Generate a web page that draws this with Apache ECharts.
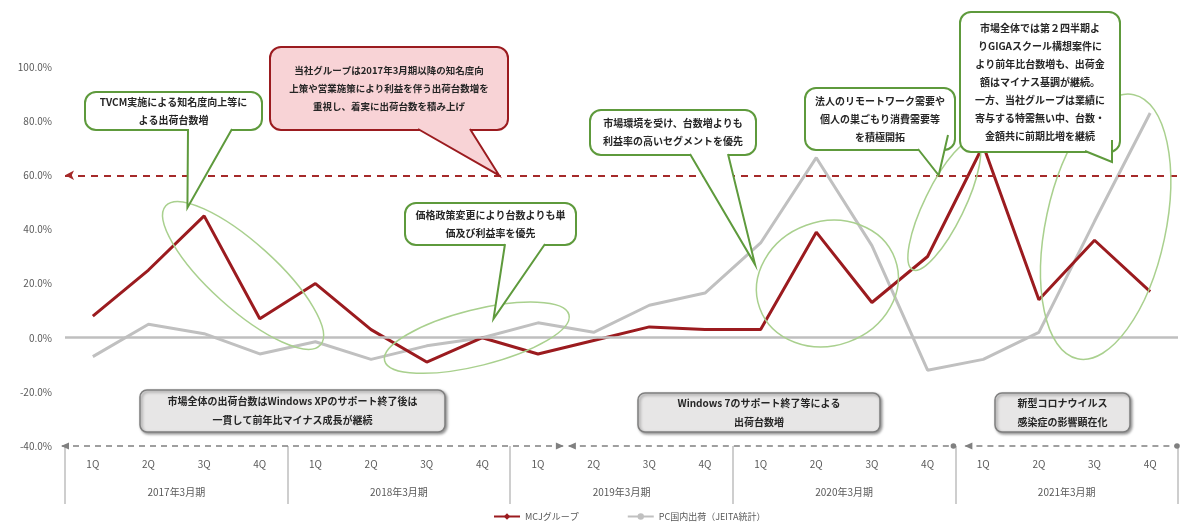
<!DOCTYPE html>
<html><head><meta charset="utf-8">
<script src="https://cdn.jsdelivr.net/npm/echarts@6/dist/echarts.min.js"></script>
<style>html,body{margin:0;padding:0;background:#fff}#c{width:1184px;height:522px}</style>
</head><body><div id="c"></div>
<script>
const quarters = ['1Q','2Q','3Q','4Q','1Q','2Q','3Q','4Q','1Q','2Q','3Q','4Q','1Q','2Q','3Q','4Q','1Q','2Q','3Q','4Q'];
const years = ['2017年3月期','2018年3月期','2019年3月期','2020年3月期','2021年3月期'];
const mcj = [8,25,45,7,20,3,-9,0,-6,-1,4,3,3,39,13,30,71,14,36,17];
const pc = [-7,5,1.5,-6,-1.5,-8,-3,0,5.5,2,12,16.5,35,66.5,34,-12,-8,2,43,83];
const yTicks = [-40,-20,0,20,40,60,80,100];
const targetLine = 60;
const seriesNames = ['MCJグループ','PC国内出荷（JEITA統計）'];

const FONT = '"Noto Sans CJK JP", "Noto Sans", sans-serif';
const chart = echarts.init(document.getElementById('c'));
chart.setOption({
  animation:false,
  backgroundColor:'#fff',
  grid:{left:65,right:6,top:67,bottom:76},
  legend:{left:488,top:507,itemWidth:26,itemHeight:8,itemGap:48,
    textStyle:{fontSize:9,color:'#595959',fontFamily:FONT}, data:seriesNames},
  xAxis:[
    {type:'category',data:quarters,position:'bottom',axisLine:{show:false},axisTick:{show:false},
     axisLabel:{margin:13,fontSize:10,color:'#595959',fontFamily:FONT}},
    {type:'category',data:years,position:'bottom',axisLine:{show:false},
     axisTick:{show:true,length:58,interval:0,lineStyle:{color:'#bfbfbf',width:1.5}},
     axisLabel:{margin:41,fontSize:10,color:'#595959',fontFamily:FONT}}
  ],
  yAxis:{type:'value',min:yTicks[0],max:yTicks[yTicks.length-1],interval:20,
    axisLine:{show:false},axisTick:{show:false},splitLine:{show:false},
    axisLabel:{margin:13,fontSize:10,color:'#595959',fontFamily:FONT,formatter:v=>v.toFixed(1)+'%'}},
  series:[
    {name:seriesNames[1],type:'line',data:pc,symbol:'circle',symbolSize:5,showSymbol:false,
     lineStyle:{color:'#c0c0c0',width:3},itemStyle:{color:'#c0c0c0'},z:2,
     markLine:{silent:true,symbol:['none','none'],label:{show:false},
       lineStyle:{color:'#bfbfbf',width:2.5,type:'solid'},data:[{yAxis:0}]}},
    {name:seriesNames[0],type:'line',data:mcj,symbol:'diamond',symbolSize:7,showSymbol:false,
     lineStyle:{color:'#9b1b1f',width:3},itemStyle:{color:'#9b1b1f'},z:3,
     markLine:{silent:true,symbol:['arrow','none'],symbolSize:[7,9],label:{show:false},
       lineStyle:{color:'#a52a2a',width:2,type:[7,6]},data:[{yAxis:targetLine}]}}
  ]
});

const p = (i,v)=>chart.convertToPixel({xAxisIndex:0,yAxisIndex:0},[i,v]);
const x0 = p(0,0)[0], step = p(1,0)[0]-x0;
const X = i => x0 + i*step;
const Y = v => p(0,v)[1];
const G = [];

// ellipses
const GREEN_L = '#a9d08e';
function ell(cx,cy,rx,ry,deg){
  G.push({type:'ellipse',x:cx,y:cy,rotation:deg*Math.PI/180,shape:{cx:0,cy:0,rx:rx,ry:ry},
    style:{fill:'none',stroke:GREEN_L,lineWidth:1.5},z:50});
}
ell(X(2.7),Y(23),104,33,-42);
ell(X(6.9),Y(0),95,28,14);
ell(X(13.2),Y(20),72,62,20);
ell(X(15.3),Y(49),72,20,64);
ell(X(18.2),Y(41),60,135,-12);

// bubbles
function bubble(x,y,w,h,tail,text,opt){
  const fill = opt.fill||'#fff', stroke = opt.stroke||'#5e9a3c';
  G.push({type:'rect',shape:{x:x,y:y,width:w,height:h,r:opt.r||11},
    style:{fill:fill,stroke:stroke,lineWidth:2,shadowBlur:opt.shadow?3:0,shadowColor:'rgba(0,0,0,0.35)',shadowOffsetX:opt.shadow?1:0,shadowOffsetY:opt.shadow?1:0},z:100});
  if(tail){
    const [a,b,t] = tail;
    G.push({type:'polygon',shape:{points:[a,t,b]},style:{fill:fill,stroke:'none'},z:101});
    G.push({type:'polyline',shape:{points:[a,t,b]},style:{fill:'none',stroke:stroke,lineWidth:2},z:102});
  }
  G.push({type:'text',x:x+w/2,y:y+h/2,style:{text:text,align:'center',verticalAlign:'middle',
    font:'bold '+(opt.fs||10)+'px '+FONT,fill:'#262626',lineHeight:opt.lh||18},z:103});
}
bubble(85,92,177,38,[[188,129],[232,129],[X(1.7),Y(48)]],'TVCM実施による知名度向上等に\nよる出荷台数増',{});
bubble(270,47,238,83,[[418,129],[470,129],[X(7.3),Y(targetLine)]],'当社グループは2017年3月期以降の知名度向\n上策や営業施策により利益を伴う出荷台数増を\n重視し、着実に出荷台数を積み上げ',{fill:'#f8d3d6',stroke:'#9b1b1f',fs:9.5});
bubble(590,110,166,45,[[690,154],[728,154],[X(11.9),Y(27)]],'市場環境を受け、台数増よりも\n利益率の高いセグメントを優先',{});
bubble(405,203,171,42,[[505,244],[545,244],[X(7.2),Y(7)]],'価格政策変更により台数よりも単\n価及び利益率を優先',{});
bubble(805,88,150,62,[[918,149],[948,135],[X(15.2),Y(targetLine)]],'法人のリモートワーク需要や\n個人の巣ごもり消費需要等\nを積極開拓',{});
bubble(960,12,160,140,[[1085,151],[1112,140],[1112,162]],'市場全体では第２四半期よ\nりGIGAスクール構想案件に\nより前年比台数増も、出荷金\n額はマイナス基調が継続。\n一方、当社グループは業績に\n寄与する特需無い中、台数・\n金額共に前期比増を継続',{});

// gray boxes
const grayOpt = {fill:'#e7e6e6',stroke:'#7f7f7f',r:7,shadow:true,fs:10};
function gbox(x,y,w,h,text){
  G.push({type:'rect',shape:{x:x,y:y,width:w,height:h,r:7},
    style:{fill:'#e7e6e6',stroke:'#7f7f7f',lineWidth:1.5,shadowBlur:3,shadowColor:'rgba(0,0,0,0.4)',shadowOffsetX:1.5,shadowOffsetY:1.5},z:100});
  G.push({type:'text',x:x+w/2,y:y+h/2,style:{text:text,align:'center',verticalAlign:'middle',
    font:'bold 10px '+FONT,fill:'#262626',lineHeight:19},z:103});
}
gbox(140,390,305,42,'市場全体の出荷台数はWindows XPのサポート終了後は\n一貫して前年比マイナス成長が継続');
gbox(638,393,242,39,'Windows 7のサポート終了等による\n出荷台数増');
gbox(995,393,135,39,'新型コロナウイルス\n感染症の影響顕在化');

// bottom dashed period arrows
const yb = Y(-40);
function seg(xa,xb,startArrow,endKind){
  G.push({type:'line',shape:{x1:xa,y1:yb,x2:xb,y2:yb},style:{stroke:'#808080',lineWidth:1.5,lineDash:[6,5]},z:60});
  if(startArrow) G.push({type:'polygon',shape:{points:[[xa-1,yb],[xa+7,yb-3.5],[xa+7,yb+3.5]]},style:{fill:'#808080'},z:61});
  if(endKind==='arrow') G.push({type:'polygon',shape:{points:[[xb+1,yb],[xb-7,yb-3.5],[xb-7,yb+3.5]]},style:{fill:'#808080'},z:61});
  if(endKind==='dot') G.push({type:'circle',shape:{cx:xb,cy:yb,r:2.8},style:{fill:'#808080'},z:61});
}
seg(X(-0.5)-3,X(8.5)-3,true,'arrow');
seg(X(8.5)+3,X(15.5)-2,true,'dot');
seg(X(15.5)+10,X(19.5)-1,true,'dot');

chart.setOption({graphic:{elements:G}});
</script></body></html>
